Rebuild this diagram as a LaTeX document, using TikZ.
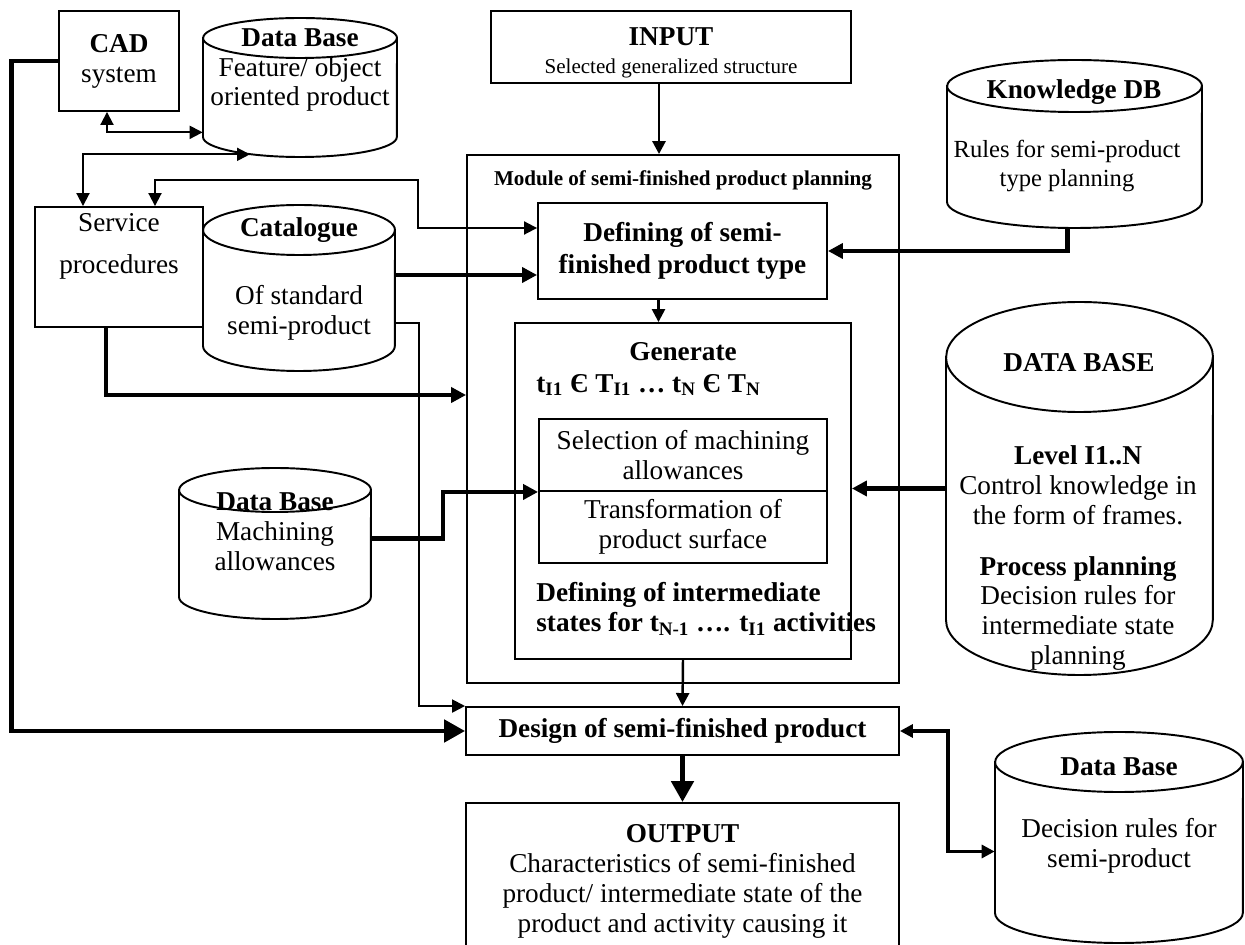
\documentclass[tikz,border=0pt]{standalone}
\usepackage{fontspec}
\setmainfont{Liberation Serif}
\usetikzlibrary{calc,arrows.meta}
\def\dbcyl(#1,#2,#3,#4,#5)#6{%
	\pgfmathsetmacro\cylrx{(#3-#1)*0.01}%
	\pgfmathsetmacro\cylry{#5*0.02}%
	\draw[line width=1.1pt, fill=white] (#1,{#2+#5}) -- (#1,{#4-#5}) arc (180:360:\cylrx cm and \cylry cm) -- (#3,{#2+#5}) arc (0:180:\cylrx cm and \cylry cm) -- cycle;
	\draw[line width=1.1pt] (#1,{#2+#5}) arc (180:360:\cylrx cm and \cylry cm);
	\node[minimum width={(#3-#1)*0.02cm}, minimum height={(#4-#2)*0.02cm}, inner sep=0pt] (#6) at ({(#1+#3)/2},{(#2+#4)/2}) {};
}

\begin{document}
\begin{tikzpicture}[x=0.02cm, y=-0.02cm, >={Triangle[length=2.6mm,width=2.6mm]},
		every node/.style={font=\fontsize{15.5}{17}\selectfont},
		heavy/.style={font=\fontsize{15.5}{17}\selectfont\bfseries},
		modtitle/.style={inner sep=0pt, font=\fontsize{12}{14}\selectfont\bfseries},
		box/.style={draw, line width=1.1pt, fill=white, inner sep=0pt, align=center},
		txt/.style={inner sep=0pt, align=center},
		link/.style={line width=1.1pt, ->},
		bilink/.style={line width=1.1pt, <->},
		fat/.style={line width=2.3pt, >={Triangle[length=3mm,width=3mm]}, ->},
		fatter/.style={line width=2.8pt, >={Triangle[length=4.2mm,width=4.4mm]}, ->}]
		\useasboundingbox (0,0) rectangle (1245,945);
		\clip (0,0) rectangle (1245,945);
		%%%%% BOXES %%%%%
		\node[box, minimum width=2.4cm, minimum height=2cm] (cad) at (119,61) {\textbf{CAD}\\system};
		\node[box, minimum width=7.2cm, minimum height=1.44cm] (inp) at (671,47) {};
		\node[txt] (inp-t) at (671,53) {\textbf{INPUT}\\[-1pt]{\fontsize{12}{14}\selectfont Selected generalized structure}};
		\node[box, minimum width=3.36cm, minimum height=2.4cm] (srv) at (119,267) {};
		\node[txt] (srv-t) at (119,246) {Service\\[7pt]procedures};
		
		\node[box, minimum width=8.64cm, minimum height=10.56cm] (mod) at (683,419) {};
		\node[modtitle] (mod-t) at (683,180) {Module of semi-finished product planning};
		\node[box, heavy, font=\fontsize{15.5}{18}\selectfont\bfseries, minimum width=5.78cm, minimum height=1.92cm] (def) at (682.5,251) {Defining of semi-\\finished product type};
		\node[box, minimum width=6.72cm, minimum height=6.72cm] (gen) at (683,491) {};
		\node[txt, heavy] (gen-t) at (683,352) {Generate};
		\node[txt, heavy, anchor=west] (gen-f) at (536,385) {t\textsubscript{I1} Є T\textsubscript{I1} … t\textsubscript{N} Є T\textsubscript{N}};
		\node[box, minimum width=5.76cm, minimum height=1.44cm] (sel) at (683,455) {Selection of machining\\allowances};
		\node[box, minimum width=5.76cm, minimum height=1.44cm] (trf) at (683,527) {Transformation of\\product surface};
		\node[txt, heavy, anchor=west, align=left] (gen-b) at (536,609) {Defining of intermediate\\states for t\textsubscript{N-1} …. t\textsubscript{I1} activities};
		
		\node[box, heavy, minimum width=8.66cm, minimum height=0.96cm] (dsg) at (682.5,731) {Design of semi-finished product};
		\node[box, minimum width=8.66cm, minimum height=3.14cm] (out) at (682.5,881.5) {\textbf{OUTPUT}\\Characteristics of semi-finished\\product/ intermediate state of the\\product and activity causing it};
		
		%%%%% DATA BASES %%%%%
		\dbcyl(203,18,397,157,20){dbf}
		\node[txt] (dbf-t) at (300,70) {\textbf{Data Base}\\Feature/ object\\oriented product};
		\dbcyl(203,205,395,371,25){cat}
		\node[txt, heavy] (cat-t) at (299,230) {Catalogue};
		\node[txt] (cat-b) at (299,313) {Of standard\\semi-product};
		\dbcyl(179,468,371,619,22){mach}
		\node[txt] (mach-t) at (275,532) {\textbf{Data Base}\\Machining\\allowances};
		\dbcyl(947,60,1202,228,26){kdb}
		\node[txt, heavy] (kdb-t) at (1074,92) {Knowledge DB};
		\node[txt, font=\fontsize{14}{16}\selectfont] (kdb-b) at (1067,166) {Rules for semi-product\\type planning};
		\dbcyl(946,302,1213,675,55){dbl}
		\node[txt, heavy] (dbl-t) at (1079,363) {DATA BASE};
		\node[txt] (dbl-b) at (1078,558) {\textbf{Level I1..N}\\Control knowledge in\\the form of frames.\\[12pt]\textbf{Process planning}\\Decision rules for\\intermediate state\\planning};
		\dbcyl(995,732,1243,943,30){dbd}
		\node[txt, heavy] (dbd-t) at (1119,767) {Data Base};
		\node[txt] (dbd-b) at (1119,846) {Decision rules for\\semi-product};
		
		%%%%% ARROWS %%%%%
		\draw[bilink] ($(cad.south)+(-12,0)$) |- ($(dbf.south west)+(0,-25)$);
		\draw[bilink] ($(srv.north)+(-36,0)$) |- ($(dbf.south)+(-50,-3)$);
		\draw[bilink] ($(srv.north)+(36,0)$) |- (418,180) |- ($(def.west)+(0,-23)$);
		\draw[fat] ($(cat.east)+(0,-13)$) coordinate (c1) -- (c1 -| def.west);
		\draw[link] ($(cat.east)+(0,35)$) -- ++(24,0) |- (dsg.north west);
		\draw[fat] ($(srv.south)+(-13,0)$) |- ($(mod.west)+(0,-24)$);
		\draw[fat] ($(mach.east)+(0,-5)$) -- ++(72,0) |- (sel.south west);
		\draw[fatter] (cad.west) -- ++(-47,0) |- (dsg.west);
		\draw[link, line width=1.6pt] ($(inp.south)+(-12,0)$) coordinate (i1) -- (i1 |- mod.north);
		\draw[link, line width=1.4pt] ($(def.south)+(-24,0)$) coordinate (d1) -- (d1 |- gen.north);
		\draw[fat] ($(kdb.south)+(-7,0)$) |- (def.east);
		\draw[fat] (dbl.west) -- (dbl.west -| gen.east);
		\draw[link, line width=1.4pt] (gen.south) -- (dsg.north);
		\draw[fatter] (dsg.south) -- (out.north);
		\draw[bilink, line width=1.8pt] (dsg.east) -- ++(48,0) |- ($(dbd.west)+(0,14)$);
\end{tikzpicture}
\end{document}
